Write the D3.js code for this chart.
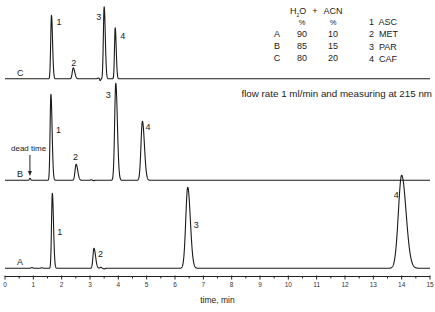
<!DOCTYPE html>
<html><head><meta charset="utf-8">
<script src="https://cdn.jsdelivr.net/npm/d3@7"></script>
<style>
html,body{margin:0;padding:0;background:#fff;}
svg{display:block;font-family:"Liberation Sans",Arial,sans-serif;}
</style></head>
<body>
<svg id="chart" width="435" height="312"></svg>
<script>
// ---- data ----
const traceNames = ["A", "B", "C"];
const traceOffsets = [0, 0.88, 1.895];            // baseline level of each trace
// peaks per trace: retention time (min), height, sigma (min), tailing factor
const peakTimesA   = [1.67, 3.14, 6.45, 14.0];
const peakHeightsA = [0.75, 0.20, 0.81, 0.93];
const peakSigmaA   = [0.028, 0.035, 0.07, 0.115];
const peakTailA    = [1.5, 1.6, 1.3, 1.35];
const peakLabelsA  = ["1", "2", "3", "4"];

const peakTimesB   = [0.88, 1.62, 2.51, 3.91, 4.85];
const peakHeightsB = [0.02, 0.86, 0.16, 0.97, 0.59];
const peakSigmaB   = [0.02, 0.028, 0.038, 0.04, 0.05];
const peakTailB    = [1.2, 1.5, 1.5, 1.4, 1.4];
const peakLabelsB  = ["", "1", "2", "3", "4"];

const peakTimesC   = [1.64, 2.41, 3.36, 3.50, 3.89];
const peakHeightsC = [0.635, 0.11, -0.018, 0.72, 0.51];
const peakSigmaC   = [0.027, 0.035, 0.02, 0.028, 0.025];
const peakTailC    = [1.4, 1.5, 1.0, 1.4, 1.4];
const peakLabelsC  = ["1", "2", "", "3", "4"];

// small baseline disturbances (time, height)
const bumpsA = [[0.95, 0.008], [1.3, 0.006], [3.38, 0.01], [3.5, -0.006]];
const bumpsB = [[3.05, 0.006], [3.12, -0.004]];
const bumpsC = [[3.3, 0.008]];

const xTickValues = d3.range(0, 16, 1);
const xMinorValues = d3.range(0.5, 15, 1);
const xLabel = "time, min";
const noteText = "flow rate 1 ml/min and measuring at 215 nm";
const compHeader = ["H", "2", "O", "+", "ACN"];
const compRows = [["", "%", "%"], ["A", "90", "10"], ["B", "85", "15"], ["C", "80", "20"]];
const analytes = ["1  ASC", "2  MET", "3  PAR", "4  CAF"];

// ---- layout ----
const svg = d3.select("#chart");
const x = d3.scaleLinear().domain([0, 15]).range([5, 430]);
const y = d3.scaleLinear().domain([0, 2.683]).range([268.3, 0]);

const traces = [
  {name: "A", off: traceOffsets[0], t: peakTimesA, h: peakHeightsA, s: peakSigmaA, k: peakTailA, lab: peakLabelsA, bumps: bumpsA},
  {name: "B", off: traceOffsets[1], t: peakTimesB, h: peakHeightsB, s: peakSigmaB, k: peakTailB, lab: peakLabelsB, bumps: bumpsB},
  {name: "C", off: traceOffsets[2], t: peakTimesC, h: peakHeightsC, s: peakSigmaC, k: peakTailC, lab: peakLabelsC, bumps: bumpsC}
];

function signal(tr, time) {
  let v = tr.off;
  tr.t.forEach((t0, i) => {
    const sg = time < t0 ? tr.s[i] : tr.s[i] * tr.k[i];
    const z = (time - t0) / sg;
    v += tr.h[i] * Math.exp(-0.5 * z * z);
  });
  tr.bumps.forEach(b => {
    const z = (time - b[0]) / 0.03;
    v += b[1] * Math.exp(-0.5 * z * z);
  });
  return v;
}

const times = d3.range(0, 15.0001, 0.004);
const line = d3.line().x(d => x(d[0])).y(d => y(d[1]));

traces.forEach(tr => {
  const pts = times.map(t => [t, signal(tr, t)]);
  svg.append("path").attr("d", line(pts))
    .attr("fill", "none").attr("stroke", "#1a1a1a").attr("stroke-width", 1.1)
    .attr("stroke-linejoin", "round");
});

// peak number labels
const labelFont = 9;
const labelOffsets = {
  A: [[5, 0.45], [4, 0.55], [6, 0.5], [-8, 0.76]],
  B: [null, [5, 0.55], [-3, 1.25], [-10, 0.85], [3, 0.85]],
  C: [[5, 0.85], [-2, 1.15], null, [-8, 0.82], [5, 0.78]]
};
traces.forEach(tr => {
  tr.lab.forEach((lab, i) => {
    if (!lab) return;
    const o = labelOffsets[tr.name][i];
    svg.append("text").attr("x", x(tr.t[i]) + o[0])
      .attr("y", y(tr.off + tr.h[i] * o[1]))
      .attr("font-size", labelFont).attr("fill", "#222").text(lab);
  });
  // trace name
  svg.append("text").attr("x", 17).attr("y", y(tr.off) - 3)
    .attr("font-size", labelFont).attr("fill", "#222").text(tr.name);
});

// dead time annotation
svg.append("text").attr("x", 11).attr("y", 151).attr("font-size", 8).attr("fill", "#222").text("dead time");
svg.append("line").attr("x1", x(0.88)).attr("x2", x(0.88)).attr("y1", 155).attr("y2", 172)
  .attr("stroke", "#222").attr("stroke-width", 1);
svg.append("path").attr("d", d3.line()([[x(0.88) - 2, 171], [x(0.88) + 2, 171], [x(0.88), 176]]))
  .attr("fill", "#222");

// x axis
const axisY = 276.5;
const ax = svg.append("g").attr("transform", `translate(0,${axisY})`);
ax.append("line").attr("x1", x(0)).attr("x2", x(15)).attr("stroke", "#222").attr("stroke-width", 1);
ax.selectAll("line.maj").data(xTickValues).join("line").attr("class", "maj")
  .attr("x1", d => x(d)).attr("x2", d => x(d)).attr("y1", -1).attr("y2", 3)
  .attr("stroke", "#222").attr("stroke-width", 1);
ax.selectAll("line.min").data(xMinorValues).join("line").attr("class", "min")
  .attr("x1", d => x(d)).attr("x2", d => x(d)).attr("y1", 0).attr("y2", 2)
  .attr("stroke", "#222").attr("stroke-width", 1);
ax.selectAll("text").data(xTickValues).join("text")
  .attr("x", d => x(d)).attr("y", 10).attr("text-anchor", "middle")
  .attr("font-size", 6.5).attr("fill", "#333").text(d => d);
svg.append("text").attr("x", x(7.5)).attr("y", 303).attr("text-anchor", "middle")
  .attr("font-size", 8.5).attr("fill", "#222").text(xLabel);

// note
svg.append("text").attr("x", 432).attr("y", 97).attr("text-anchor", "end")
  .attr("font-size", 9.8).attr("fill", "#222").text(noteText);

// composition table
const hdr = svg.append("text").attr("x", 290).attr("y", 14).attr("font-size", 9).attr("fill", "#222");
hdr.append("tspan").text(compHeader[0]);
hdr.append("tspan").attr("font-size", 5).attr("dy", 3).text(compHeader[1]);
hdr.append("tspan").attr("dy", -3).text(compHeader[2]);
hdr.append("tspan").attr("dx", 6).text(compHeader[3]);
hdr.append("tspan").attr("dx", 6).text(compHeader[4]);
const colX = [277, 302, 333];
compRows.forEach((row, r) => {
  row.forEach((cell, c) => {
    svg.append("text").attr("x", colX[c]).attr("y", 25 + r * 12)
      .attr("text-anchor", "middle").attr("font-size", r === 0 ? 7.5 : 9)
      .attr("fill", "#222").text(cell);
  });
});
analytes.forEach((a, i) => {
  svg.append("text").attr("x", 369).attr("y", 25 + i * 12.3)
    .attr("font-size", 9).attr("fill", "#222").attr("xml:space", "preserve")
    .style("white-space", "pre").text(a);
});
</script>
</body></html>
